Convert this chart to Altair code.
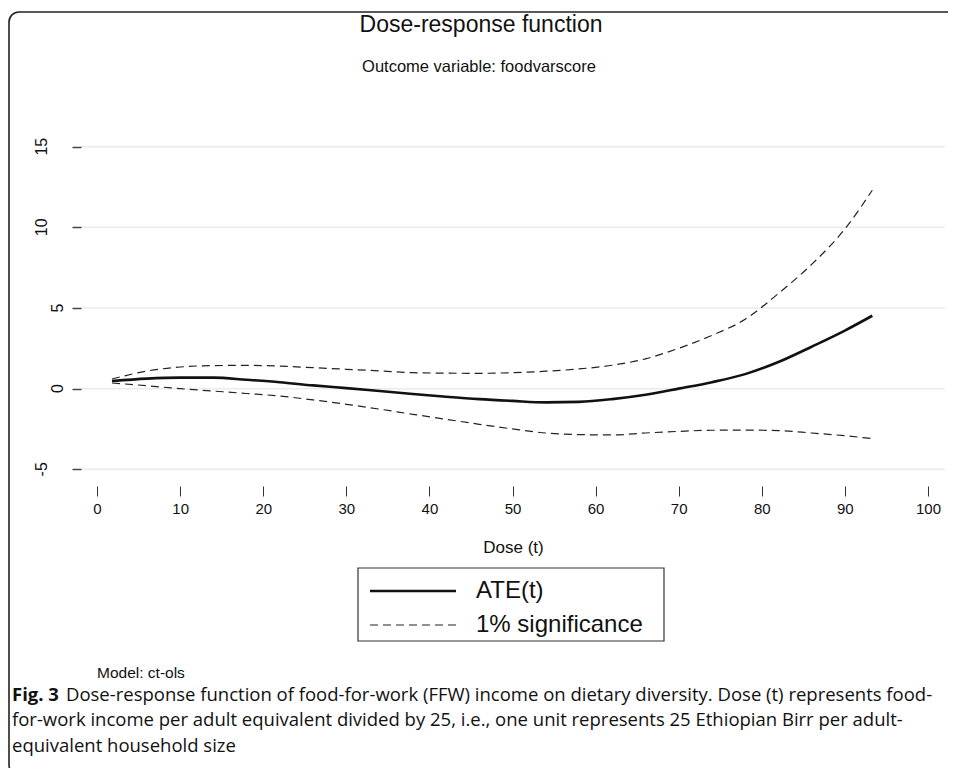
import altair as alt
import pandas as pd

# ---- data ----
dose = [1.8, 6, 10, 14, 18, 22, 26, 30, 34, 38, 42, 46, 50, 54, 58, 62, 66, 70, 74, 78, 82, 86, 90, 93.3]
ate = [0.47, 0.62, 0.68, 0.68, 0.55, 0.4, 0.2, 0.03, -0.15, -0.33, -0.5, -0.65, -0.76, -0.85, -0.82, -0.65, -0.38, 0.0, 0.4, 0.9, 1.65, 2.6, 3.6, 4.52]
upper = [0.6, 1.09, 1.34, 1.43, 1.44, 1.4, 1.3, 1.2, 1.1, 0.99, 0.96, 0.95, 0.99, 1.08, 1.22, 1.45, 1.85, 2.5, 3.3, 4.3, 5.9, 7.7, 9.9, 12.3]
lower = [0.35, 0.18, 0.0, -0.15, -0.3, -0.46, -0.7, -0.97, -1.27, -1.59, -1.9, -2.21, -2.5, -2.75, -2.85, -2.87, -2.75, -2.65, -2.58, -2.57, -2.6, -2.75, -2.92, -3.1]

x_ticks = list(range(0, 101, 10))
y_ticks = [-5, 0, 5, 10, 15]
legend_labels = ["ATE(t)", "1% significance"]

title_text = "Dose-response function"
subtitle_text = "Outcome variable: foodvarscore"
x_title = "Dose (t)"
model_text = "Model: ct-ols"
caption_bold = "Fig. 3"
caption_lines = [
    "Dose-response function of food-for-work (FFW) income on dietary diversity. Dose (t) represents food-",
    "for-work income per adult equivalent divided by 25, i.e., one unit represents 25 Ethiopian Birr per adult-",
    "equivalent household size",
]

W, H = 864, 343
FONT = "Liberation Sans"
CAP_FONT = "Open Sans"

xs = alt.Scale(domain=[-1.93, 102.05], nice=False, zero=False)
ys = alt.Scale(domain=[-5.54, 15.725], nice=False, zero=False)

df_ate = pd.DataFrame({"t": dose, "v": ate})
df_bounds = pd.DataFrame({
    "t": dose + dose,
    "v": upper + lower,
    "bound": ["upper"] * len(dose) + ["lower"] * len(dose),
})
df_grid = pd.DataFrame({"y": y_ticks, "lab": [str(v) for v in y_ticks]})

def txt(text, x, y, size, font=FONT, align="center", weight="normal", baseline="middle"):
    return alt.Chart(pd.DataFrame({"s": [text]})).mark_text(
        font=font, fontSize=size, align=align, baseline=baseline,
        fontWeight=weight, color="#111"
    ).encode(text="s:N", x=alt.value(x), y=alt.value(y))

# border frame
frame = alt.Chart(pd.DataFrame({"a": [0]})).mark_rect(
    fillOpacity=0, stroke="#222", strokeWidth=1.6, cornerRadius=10
).encode(x=alt.value(-72), x2=alt.value(900), y=alt.value(-123), y2=alt.value(640))

x_axis = alt.Axis(
    values=x_ticks, tickSize=10, offset=8, domain=False, grid=False,
    labelFont=FONT, labelFontSize=15, labelColor="#111", labelPadding=5,
    tickColor="#333", tickWidth=1,
    title=x_title, titleFont=FONT, titleFontSize=17, titleFontWeight="normal",
    titleColor="#111", titlePadding=23, zindex=1,
)
y_axis = alt.Axis(
    values=y_ticks, tickSize=9, domain=False, grid=False, labels=False,
    tickColor="#444", tickWidth=1.5, title=None, zindex=1,
)

grid = alt.Chart(df_grid).mark_rule(color="#ebebeb", strokeWidth=1.5).encode(
    y=alt.Y("y:Q", scale=ys, axis=y_axis),
    x=alt.value(0), x2=alt.value(W),
)

# y tick labels (rotated), short labels sit closer to the ticks as in the reference
ylab_short = alt.Chart(df_grid).transform_filter(
    "datum.y >= 0 && datum.y < 10"
).mark_text(font=FONT, fontSize=16, angle=270, align="center", baseline="alphabetic", color="#111").encode(
    y=alt.Y("y:Q", scale=ys, axis=y_axis), x=alt.value(-18), text="lab:N")
ylab_long = alt.Chart(df_grid).transform_filter(
    "datum.y < 0 || datum.y >= 10"
).mark_text(font=FONT, fontSize=16, angle=270, align="center", baseline="alphabetic", color="#111").encode(
    y=alt.Y("y:Q", scale=ys, axis=y_axis), x=alt.value(-34), text="lab:N")

solid = alt.Chart(df_ate).mark_line(color="#111", strokeWidth=2.6, interpolate="monotone").encode(
    x=alt.X("t:Q", scale=xs, axis=x_axis),
    y=alt.Y("v:Q", scale=ys, axis=y_axis),
)
dashed = alt.Chart(df_bounds).mark_line(
    color="#222", strokeWidth=1.2, strokeDash=[8, 5], interpolate="monotone"
).encode(
    x=alt.X("t:Q", scale=xs, axis=x_axis),
    y=alt.Y("v:Q", scale=ys, axis=y_axis),
    detail="bound:N",
)

# legend (manual, to mimic the boxed base-graphics legend)
leg_box = alt.Chart(pd.DataFrame({"a": [0]})).mark_rect(
    fillOpacity=0, stroke="#333", strokeWidth=1.2
).encode(x=alt.value(277), x2=alt.value(583), y=alt.value(433), y2=alt.value(506))
leg_solid = alt.Chart(pd.DataFrame({"a": [0]})).mark_rule(color="#111", strokeWidth=2.6).encode(
    x=alt.value(289), x2=alt.value(375), y=alt.value(456))
leg_dash = alt.Chart(pd.DataFrame({"a": [0]})).mark_rule(color="#222", strokeWidth=1.2, strokeDash=[8, 5]).encode(
    x=alt.value(289), x2=alt.value(375), y=alt.value(490))
leg_t1 = txt(legend_labels[0], 395, 456, 24, align="left")
leg_t2 = txt(legend_labels[1], 395, 490, 24, align="left")

t_title = txt(title_text, 400, -110, 23)
t_sub = txt(subtitle_text, 398, -68, 16.5)
t_model = txt(model_text, 16, 538, 15.5, align="left")
CS = 18.5
t_fig = txt(caption_bold, -69, 560, CS, font=CAP_FONT, align="left", weight="bold")
t_c1 = txt(caption_lines[0], -15, 560, CS, font=CAP_FONT, align="left")
t_c2 = txt(caption_lines[1], -69, 585, CS, font=CAP_FONT, align="left")
t_c3 = txt(caption_lines[2], -69, 611, CS, font=CAP_FONT, align="left")

chart = alt.layer(
    frame, grid, dashed, solid, ylab_short, ylab_long,
    leg_box, leg_solid, leg_dash, leg_t1, leg_t2,
    t_title, t_sub, t_model, t_fig, t_c1, t_c2, t_c3,
).properties(
    width=W, height=H,
    background="white",
    autosize=alt.AutoSizeParams(type="none"),
    padding={"left": 73, "top": 127, "right": 3, "bottom": 290},
).configure_view(strokeWidth=0, stroke="transparent")

chart.save("out.html", embed_options={"renderer": "svg", "actions": False})
